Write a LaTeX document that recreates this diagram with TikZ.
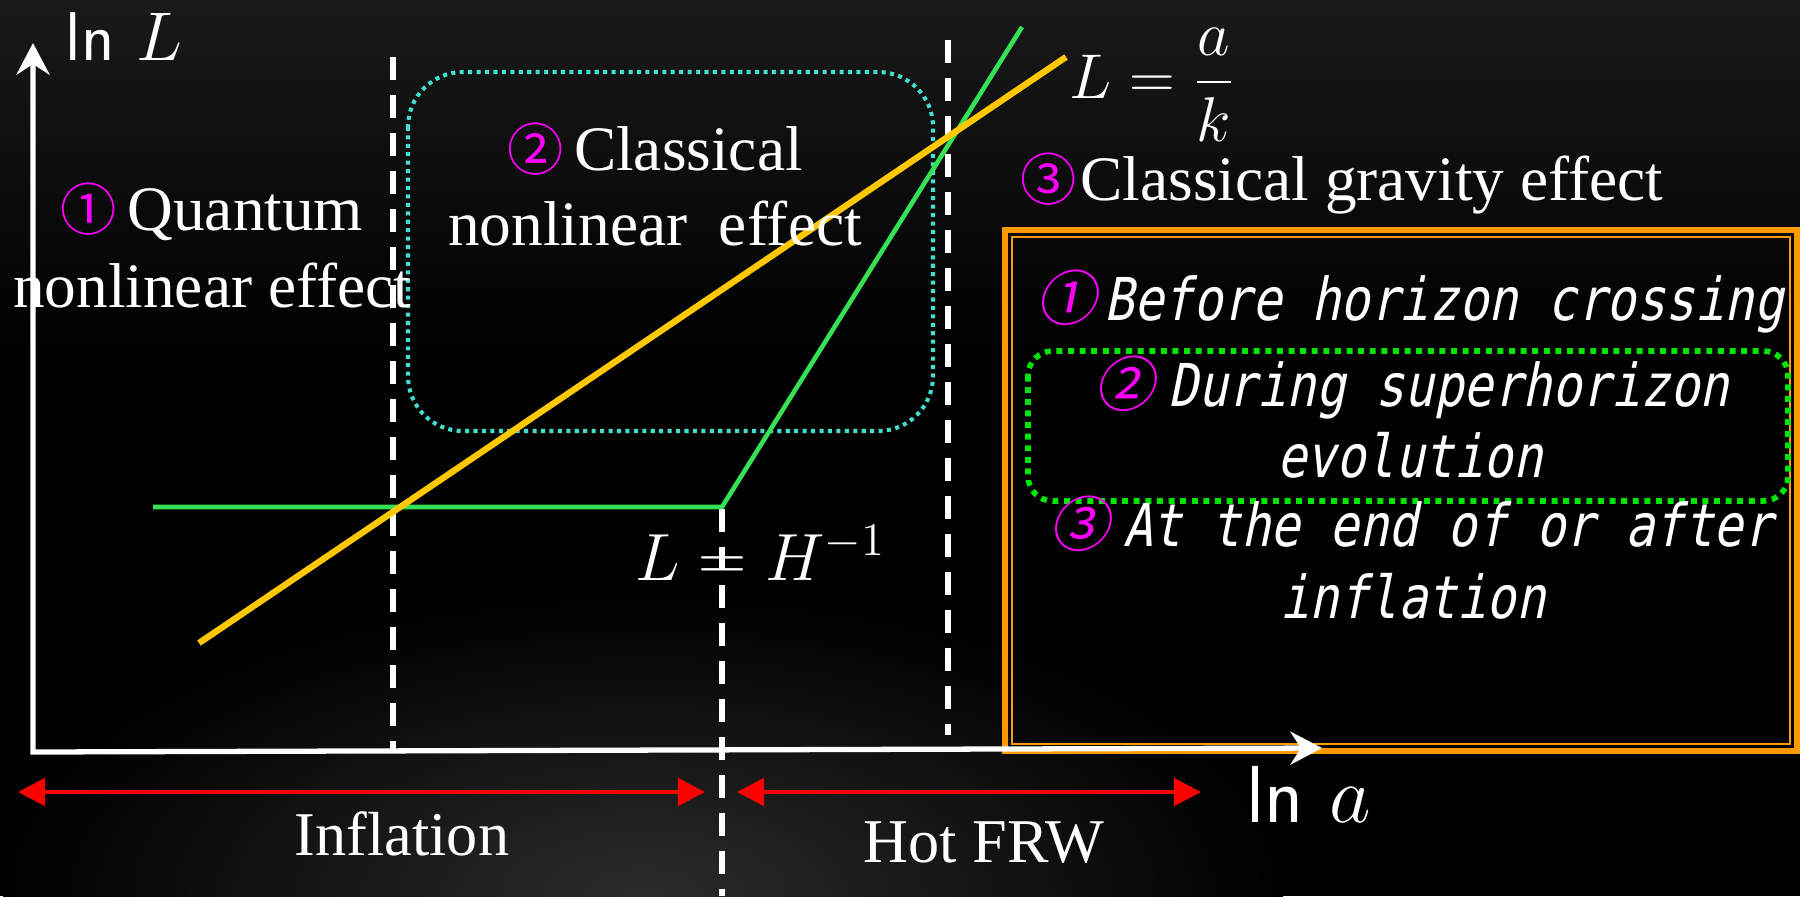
\RequirePackage{fix-cm}
\documentclass[tikz,border=0pt]{standalone}
\usepackage{fontspec}
\setmainfont{Liberation Serif}
\newfontfamily\circfont{Noto Sans CJK JP}
\newfontfamily\circslant[FakeSlant=0.2]{Noto Sans CJK JP}
\newfontfamily\monoslant[FakeSlant=0.2,FakeStretch=0.83]{DejaVu Sans Mono}
\usetikzlibrary{arrows.meta}
\definecolor{cyanD}{RGB}{64,224,208}
\definecolor{greenD}{RGB}{0,230,0}
\definecolor{lineG}{RGB}{55,225,85}
\definecolor{lineY}{RGB}{255,200,0}
\definecolor{orangeB}{RGB}{255,153,0}
\definecolor{magC}{RGB}{255,0,255}
\newcommand\cn[1]{{\circfont\fontsize{16}{18}\selectfont\color{magC}#1}}
\newcommand\cns[1]{{\circslant\fontsize{17}{18}\selectfont\color{magC}#1}}
\begin{document}
\begin{tikzpicture}[x=0.01cm,y=-0.01cm,
  txt/.style={text=white, inner sep=0pt, anchor=base, font=\fontsize{18}{21}\selectfont},
  mono/.style={text=white, inner sep=0pt, anchor=base, font=\monoslant\fontsize{16.8}{20}\selectfont},
  vdash/.style={white, line width=1.45pt, dash pattern=on 6.5pt off 4.3pt},
  cyandots/.style={cyanD, line width=1.15pt, dash pattern=on 1.15pt off 1.25pt, rounded corners=15.6pt},
  greendots/.style={greenD, line width=1.6pt, dash pattern=on 1.7pt off 1.6pt, rounded corners=7pt},
  axis/.style={white, line width=1.5pt, line join=miter},
  redarrow/.style={red, line width=1.4pt, {Triangle[length=7.7pt,width=7.7pt]}-{Triangle[length=7.7pt,width=7.7pt]}}
]
\useasboundingbox (0,0) rectangle (1800,896);
\fill[black] (0,0) rectangle (1800,896);
\shade[top color=black!90, bottom color=black] (0,0) rectangle (1800,350);
\shade[inner color=black!83, outer color=black] (643,896) ellipse [x radius=640, y radius=300];

% coordinates
\coordinate (O) at (33,752);
\coordinate (Ytip) at (33,43);
\coordinate (Xtip) at (1322,748);
\coordinate (d1t) at (393,57);   \coordinate (d1b) at (393,750);
\coordinate (d2t) at (722,509);  \coordinate (d2b) at (722,896);
\coordinate (d3t) at (948,40);   \coordinate (d3b) at (948,735);
\coordinate (y1) at (199,643);   \coordinate (y2) at (1066,57);
\coordinate (g1) at (153,507);   \coordinate (g2) at (722,507);   \coordinate (g3) at (1022,27);
\coordinate (r1a) at (18,792);   \coordinate (r1b) at (705,792);
\coordinate (r2a) at (737,792);  \coordinate (r2b) at (1201,792);

% dashed verticals
\draw[vdash] (d1t) -- (d1b);
\draw[vdash] (d2t) -- (d2b);
\draw[vdash] (d3t) -- (d3b);

% cyan dotted box
\draw[cyandots] (408,72) rectangle (933,431);

% curves
\draw[lineG, line width=1.3pt, line join=round] (g1) -- (g2) -- (g3);
\draw[lineY, line width=1.8pt] (y1) -- (y2);

% orange box
\draw[orangeB, line width=1.6pt] (1005,230) rectangle (1797,751);
\draw[orangeB, line width=0.6pt] (1012,237) rectangle (1790,744);

% green dotted box
\draw[greendots] (1028,351) rectangle (1788,501);

% axes
\draw[axis, {Stealth[length=9pt,width=9.4pt,inset=3pt]}-{Stealth[length=9pt,width=9.4pt,inset=3pt]}] (Ytip) -- (O) -- (Xtip);

% red arrows
\draw[redarrow] (r1a) -- (r1b);
\draw[redarrow] (r2a) -- (r2b);

% axis labels
\node[text=white, inner sep=0pt, anchor=base west, font=\fontsize{19.6}{22}\selectfont] (lnL) at (65,60) {\sffamily ln $L$};
\node[text=white, inner sep=0pt, anchor=base west, font=\fontsize{23}{26}\selectfont] (lna) at (1246,822) {\sffamily ln $a$};

% math labels
\node[text=white, inner sep=0pt, anchor=base west, font=\fontsize{18}{21}\selectfont] (Lak) at (1069,98) {$L=\displaystyle\frac{a}{k}$};
\node[text=white, inner sep=0pt, anchor=base west, font=\fontsize{19}{22}\selectfont] (LH) at (635,580) {$L = H^{-1}$};

% region labels
\node[txt] (q1) at (212,230) {\cn{①}\hspace{3pt}Quantum};
\node[txt] (q2) at (212,307) {nonlinear effect};
\node[txt] (c1) at (655,170) {\cn{②}\hspace{3pt}Classical};
\node[txt] (c2) at (655,245) {nonlinear\ \ effect};
\node[txt] (gr) at (1342,200) {\cn{③}\hspace{1pt}Classical gravity effect};

% bottom labels
\node[txt, font=\fontsize{17.7}{21}\selectfont] (infl) at (402,855) {Inflation};
\node[txt, font=\fontsize{17.7}{21}\selectfont] (hot) at (984,862) {Hot FRW};

% box texts
\node[mono] (b1) at (1410,320) {\cns{①}\hspace{2.5pt}Before horizon crossing};
\node[mono] (b2) at (1412,406) {\cns{②}\hspace{4pt}During superhorizon};
\node[mono] (b3) at (1410,477) {evolution};
\node[mono] (b4) at (1411,546) {\cns{③}\hspace{4pt}At the end of or after};
\node[mono] (b5) at (1413,618) {inflation};
\end{tikzpicture}
\end{document}
